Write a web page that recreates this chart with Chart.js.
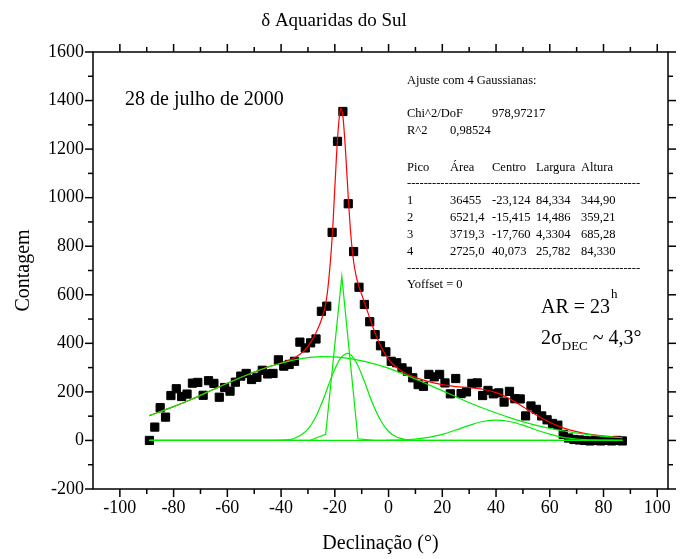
<!DOCTYPE html>
<html>
<head>
<meta charset="utf-8">
<script src="https://cdn.jsdelivr.net/npm/chart.js@4.4.1/dist/chart.umd.min.js"></script>
<style>
  html, body { margin: 0; padding: 0; background: #fff; }
  #wrap { width: 685px; height: 559px; }
</style>
</head>
<body>
<div id="wrap"><canvas id="chart" width="685" height="559"></canvas></div>
<script>
const SERIF = "'Liberation Serif', 'Times New Roman', serif";

// observed counts, declination every 2 degrees
const decl = [];
for (let d = -89; d <= 87; d += 2) decl.push(d);
const counts = [
  0, 55, 135, 96, 185, 213, 181, 191, 236, 239, 186, 246, 235, 178, 218, 203,
  240, 265, 276, 251, 260, 289, 274, 276, 332, 306, 313, 326, 405, 381, 402, 418,
  532, 553, 857, 1232, 1355, 975, 778, 631, 560, 489, 436, 390, 365,
  326, 320, 299, 285, 258, 230, 223, 272, 262, 272, 237, 192, 255, 193, 200, 235,
  237, 185, 206, 192, 196, 158, 202, 172, 171, 101, 142, 128, 101, 85, 70, 63,
  25, 10, 4, 2, 0, -2, 0, -2, 0, -2, 0, -2
];

// total fit (red)
const fitX = [-89, -81, -73, -65, -57, -49, -45, -41, -37, -35, -33, -31, -29, -27, -25, -23,
  -21, -20, -19, -18, -17.8, -17, -16, -15, -14, -13, -12, -11, -10, -9,
  -7, -5, -3, -1, 1, 4, 7, 10, 15, 20, 25, 30, 35, 40, 45, 50, 55, 60, 65, 70, 75, 80, 87];
const fitY = [102, 135, 171, 211, 250, 286, 302, 316, 331, 341, 355, 374, 404, 444, 497, 589,
  835, 1040, 1243, 1361, 1368, 1336, 1190, 1001, 841, 736, 674, 634, 601, 569,
  504, 442, 391, 351, 321, 292, 273, 260, 242, 230, 222, 218, 211, 197, 172, 139, 105, 75, 52, 36, 25, 18, 12];

// gaussian components (green)
const g1X = [-89, -81, -73, -65, -57, -49, -41, -33, -25, -17, -9, -1, 7, 15, 23, 31, 39, 47, 55, 63, 71, 79, 87];
const g1Y = [102, 135, 171, 211, 250, 286, 315, 336, 345, 341, 326, 301, 267, 229, 190, 151, 117, 87, 62, 43, 29, 18, 11];
const g2X = [-89, -45, -40, -35, -30, -27, -24, -21, -18, -15, -12, -9, -6, -3, 0, 3, 6, 10, 20, 87];
const g2Y = [0, 0, 1, 9, 47, 100, 178, 267, 337, 359, 321, 243, 154, 83, 37, 14, 5, 1, 0, 0];
const g3X = [-89, -29.4, -23.4, -17.4, -11.4, -5.4, 87];
const g3Y = [0, 0, 25, 676, 7, 0, 0];
const g4X = [-89, -5, 0, 5, 10, 15, 20, 25, 30, 35, 40, 45, 50, 55, 60, 65, 70, 75, 80, 87];
const g4Y = [0, 0, 1, 2, 6, 13, 25, 43, 62, 78, 84, 78, 63, 43, 26, 13, 6, 2, 1, 0];

const xTicks = [-100, -80, -60, -40, -20, 0, 20, 40, 60, 80, 100];
const yTicks = [-200, 0, 200, 400, 600, 800, 1000, 1200, 1400, 1600];

const fitRows = [
  ['1', '36455', '-23,124', '84,334', '344,90'],
  ['2', '6521,4', '-15,415', '14,486', '359,21'],
  ['3', '3719,3', '-17,760', '4,3304', '685,28'],
  ['4', '2725,0', '40,073', '25,782', '84,330'],
];

const pts = (xs, ys) => xs.map((x, i) => ({ x, y: ys[i] }));

function greenLine(data, smooth) {
  return {
    type: 'line',
    data,
    borderColor: '#00ee00',
    borderWidth: 1.2,
    pointRadius: 0,
    fill: false,
    tension: 0,
    cubicInterpolationMode: smooth ? 'monotone' : 'default',
    order: 0,
  };
}

function tick(ctx, x1, y1, x2, y2) {
  ctx.beginPath();
  ctx.moveTo(x1, y1);
  ctx.lineTo(x2, y2);
  ctx.stroke();
}

const decorPlugin = {
  id: 'decor',
  afterDraw(chart) {
    const { ctx, chartArea: a, scales: { x, y } } = chart;
    ctx.save();
    ctx.strokeStyle = '#000';
    ctx.lineWidth = 1.5;
    ctx.strokeRect(a.left, a.top, a.right - a.left, a.bottom - a.top);

    // axis ticks, outward, major + minor
    for (let v = -100; v <= 100; v += 10) {
      const px = x.getPixelForValue(v);
      const len = v % 20 === 0 ? 8 : 5;
      tick(ctx, px, a.bottom, px, a.bottom + len);
      tick(ctx, px, a.top, px, a.top - len);
    }
    for (let v = -200; v <= 1600; v += 100) {
      const py = y.getPixelForValue(v);
      const len = v % 200 === 0 ? 8 : 5;
      tick(ctx, a.left, py, a.left - len, py);
      tick(ctx, a.right, py, a.right + len, py);
    }

    ctx.fillStyle = '#000';
    ctx.textBaseline = 'middle';
    ctx.textAlign = 'left';

    ctx.font = '20px ' + SERIF;
    ctx.fillText('28 de julho de 2000', 125, 100);

    // fit report
    ctx.font = '12.5px ' + SERIF;
    ctx.fillText('Ajuste com 4 Gaussianas:', 407, 81);
    ctx.fillText('Chi^2/DoF', 407, 114);
    ctx.fillText('978,97217', 492, 114);
    ctx.fillText('R^2', 407, 131);
    ctx.fillText('0,98524', 450, 131);
    const cols = [407, 450, 492, 536, 581];
    ['Pico', 'Área', 'Centro', 'Largura', 'Altura'].forEach((t, i) => ctx.fillText(t, cols[i], 168));
    fitRows.forEach((row, r) => {
      row.forEach((t, i) => ctx.fillText(t, cols[i], 201 + r * 17));
    });
    let dashes = '-';
    while (ctx.measureText(dashes + '-').width <= 234) dashes += '-';
    ctx.fillText(dashes, 407, 184);
    ctx.fillText(dashes, 407, 269);
    ctx.fillText('Yoffset = 0', 407, 285);

    // AR / sigma note
    ctx.font = '20px ' + SERIF;
    ctx.fillText('AR = 23', 541, 308);
    let w = ctx.measureText('AR = 23').width;
    ctx.font = '13px ' + SERIF;
    ctx.fillText('h', 541 + w + 1, 295);

    ctx.font = '20px ' + SERIF;
    ctx.fillText('2σ', 541, 339);
    w = ctx.measureText('2σ').width;
    ctx.font = '13px ' + SERIF;
    ctx.fillText('DEC', 541 + w, 347);
    const w2 = ctx.measureText('DEC').width;
    ctx.font = '20px ' + SERIF;
    ctx.fillText(' ~ 4,3°', 541 + w + w2, 339);

    ctx.restore();
  },
};

new Chart(document.getElementById('chart'), {
  type: 'scatter',
  data: {
    datasets: [
      greenLine(pts(g1X, g1Y), true),
      greenLine(pts(g2X, g2Y), true),
      greenLine(pts(g3X, g3Y), false),
      greenLine(pts(g4X, g4Y), true),
      {
        type: 'line',
        data: pts(fitX, fitY),
        borderColor: '#ff0000',
        borderWidth: 1.2,
        pointRadius: 0,
        fill: false,
        cubicInterpolationMode: 'monotone',
        order: 1,
      },
      {
        type: 'scatter',
        data: pts(decl, counts),
        pointStyle: 'rect',
        pointRadius: 5.8,
        pointBorderWidth: 1,
        pointBackgroundColor: '#000',
        pointBorderColor: '#000',
        order: 2,
      },
    ],
  },
  options: {
    responsive: false,
    animation: false,
    devicePixelRatio: 1,
    layout: { padding: { top: 0, right: 17, left: 0, bottom: 0 } },
    plugins: {
      legend: { display: false },
      tooltip: { enabled: false },
      title: {
        display: true,
        text: 'δ Aquaridas do Sul',
        color: '#000',
        font: { family: SERIF, size: 19, weight: 'normal' },
        padding: { top: 10, bottom: 19.2 },
      },
    },
    scales: {
      x: {
        type: 'linear',
        min: -110,
        max: 104,
        afterBuildTicks: (s) => { s.ticks = xTicks.map(v => ({ value: v })); },
        afterFit: (s) => { s.height = 70; },
        grid: { display: false },
        border: { display: false },
        ticks: { color: '#000', font: { family: SERIF, size: 18 }, padding: 0, maxRotation: 0,
          callback: (v) => String(v) },
        title: {
          display: true,
          text: 'Declinação (°)',
          color: '#000',
          font: { family: SERIF, size: 20 },
          padding: { top: 0, bottom: 3 },
        },
      },
      y: {
        type: 'linear',
        min: -200,
        max: 1600,
        afterBuildTicks: (s) => { s.ticks = yTicks.map(v => ({ value: v })); },
        afterFit: (s) => { s.width = 93; },
        grid: { display: false },
        border: { display: false },
        ticks: { color: '#000', font: { family: SERIF, size: 18 }, padding: 1,
          callback: (v) => String(v) },
        title: {
          display: true,
          text: 'Contagem',
          color: '#000',
          font: { family: SERIF, size: 20 },
          padding: { top: 12, bottom: 0 },
        },
      },
    },
  },
  plugins: [decorPlugin],
});
</script>
</body>
</html>
